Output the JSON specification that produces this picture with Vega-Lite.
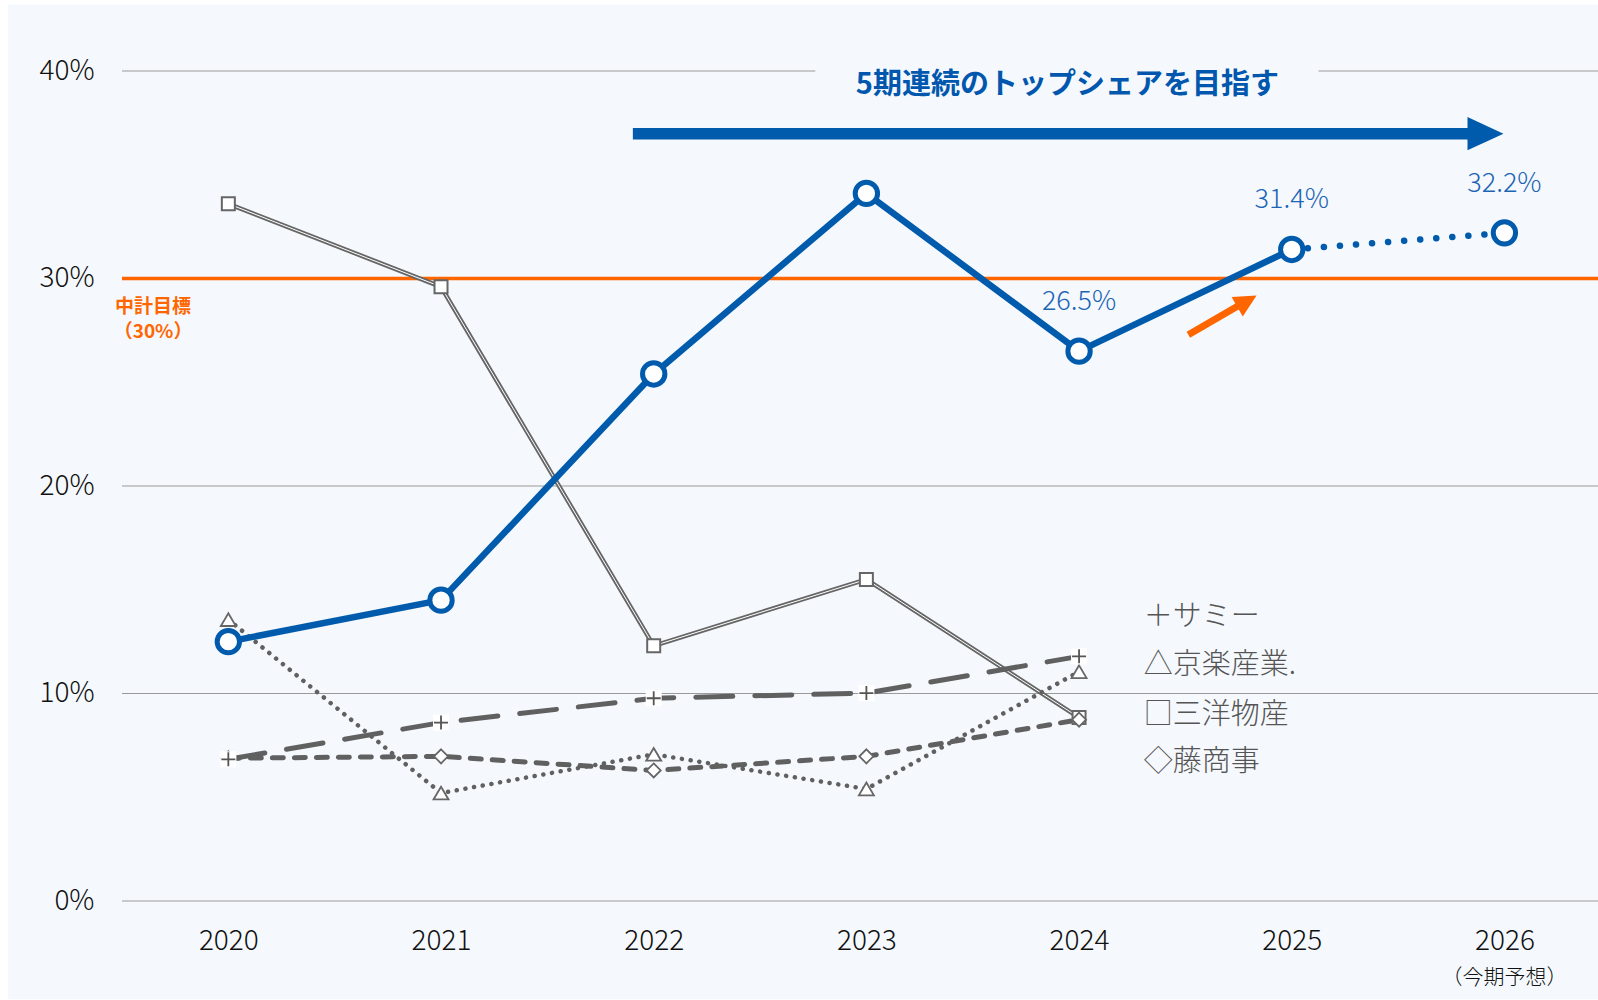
{
  "$schema": "https://vega.github.io/schema/vega-lite/v6.json",
  "width": 1476,
  "height": 830,
  "autosize": "none",
  "padding": {"left": 122, "top": 71, "right": 0, "bottom": 99},
  "background": "white",
  "config": {"view": {"stroke": null}, "font": "Noto Sans CJK JP"},
  "datasets": {
    "frame": [{"year": 2018.964, "year2": 2026.6, "value": -4.73, "value2": 43.2}],
    "grid": [
      {"year": 2019.5, "year2": 2026.44, "value": 0},
      {"year": 2019.5, "year2": 2026.44, "value": 10},
      {"year": 2019.5, "year2": 2026.44, "value": 20},
      {"year": 2019.5, "year2": 2026.44, "value": 40}
    ],
    "titlebox": [{"year": 2022.76, "year2": 2025.126, "value": 39.0, "value2": 40.6}],
    "target": [{"year": 2019.5, "year2": 2026.44, "value": 30}],
    "bluearrow": [{"year": 2021.902, "year2": 2025.83, "value": 36.98, "head": 2025.911}],
    "orangearrow": [{"year": 2024.514, "year2": 2024.749, "value": 27.29, "value2": 28.69, "hx": 2024.789, "hy": 28.91}],
    "share": [
      {"company": "当社", "year": 2020, "value": 12.5},
      {"company": "当社", "year": 2021, "value": 14.5},
      {"company": "当社", "year": 2022, "value": 25.4},
      {"company": "当社", "year": 2023, "value": 34.1},
      {"company": "当社", "year": 2024, "value": 26.5},
      {"company": "当社", "year": 2025, "value": 31.4},
      {"company": "当社", "year": 2026, "value": 32.2},
      {"company": "三洋物産", "year": 2020, "value": 33.6},
      {"company": "三洋物産", "year": 2021, "value": 29.6},
      {"company": "三洋物産", "year": 2022, "value": 12.3},
      {"company": "三洋物産", "year": 2023, "value": 15.5},
      {"company": "三洋物産", "year": 2024, "value": 8.84},
      {"company": "サミー", "year": 2020, "value": 6.83},
      {"company": "サミー", "year": 2021, "value": 8.6},
      {"company": "サミー", "year": 2022, "value": 9.77},
      {"company": "サミー", "year": 2023, "value": 10.02},
      {"company": "サミー", "year": 2024, "value": 11.79},
      {"company": "京楽産業.", "year": 2020, "value": 13.56},
      {"company": "京楽産業.", "year": 2021, "value": 5.2},
      {"company": "京楽産業.", "year": 2022, "value": 7.07},
      {"company": "京楽産業.", "year": 2023, "value": 5.4},
      {"company": "京楽産業.", "year": 2024, "value": 11.05},
      {"company": "藤商事", "year": 2020, "value": 6.88},
      {"company": "藤商事", "year": 2021, "value": 6.97},
      {"company": "藤商事", "year": 2022, "value": 6.29},
      {"company": "藤商事", "year": 2023, "value": 6.97},
      {"company": "藤商事", "year": 2024, "value": 8.74}
    ],
    "notes": [
      {"kind": "title", "year": 2023.945, "value": 39.34, "label": "5期連続のトップシェアを目指す"},
      {"kind": "target", "year": 2019.646, "value": 28.62, "label": "中計目標"},
      {"kind": "target", "year": 2019.646, "value": 27.4, "label": "（30%）"},
      {"kind": "legend", "year": 2024.304, "value": 13.71, "label": "＋サミー"},
      {"kind": "legend", "year": 2024.304, "value": 11.35, "label": "△京楽産業."},
      {"kind": "legend", "year": 2024.304, "value": 8.94, "label": "□三洋物産"},
      {"kind": "legend", "year": 2024.304, "value": 6.68, "label": "◇藤商事"},
      {"kind": "sub", "year": 2026, "value": -3.72, "label": "（今期予想）"}
    ]
  },
  "encoding": {
    "x": {
      "field": "year", "type": "quantitative",
      "scale": {"domain": [2019.5, 2026.44], "nice": false, "zero": false},
      "axis": {"values": [2020, 2021, 2022, 2023, 2024, 2025, 2026], "format": "d", "grid": false, "ticks": false, "domain": false, "title": null, "labelFontSize": 28, "labelFontWeight": 300, "labelColor": "#111111", "labelPadding": 26, "zindex": 1}
    },
    "y": {
      "field": "value", "type": "quantitative",
      "scale": {"domain": [0, 40], "nice": false, "zero": false},
      "axis": {"values": [0, 10, 20, 30, 40], "labelExpr": "datum.value + '%'", "grid": false, "ticks": false, "domain": false, "title": null, "labelFontSize": 28, "labelFontWeight": 300, "labelColor": "#111111", "labelPadding": 28, "zindex": 1}
    }
  },
  "layer": [
    {"data": {"name": "frame"}, "mark": {"type": "rect", "fill": "#f5f9fd"}, "encoding": {"x2": {"field": "year2"}, "y2": {"field": "value2"}}},
    {"data": {"name": "grid"}, "mark": {"type": "rule", "stroke": "#9a9a9a", "strokeWidth": 1.2}, "encoding": {"x2": {"field": "year2"}}},
    {"data": {"name": "titlebox"}, "mark": {"type": "rect", "fill": "#f5f9fd"}, "encoding": {"x2": {"field": "year2"}, "y2": {"field": "value2"}}},
    {"data": {"name": "notes"}, "transform": [{"filter": "datum.kind == 'title'"}], "mark": {"type": "text", "fontSize": 29, "fontWeight": "bold", "color": "#0057ad", "align": "center", "baseline": "middle"}, "encoding": {"text": {"field": "label"}}},
    {"data": {"name": "bluearrow"}, "mark": {"type": "rule", "stroke": "#005bac", "strokeWidth": 11.5, "strokeCap": "butt"}, "encoding": {"x2": {"field": "year2"}}},
    {"data": {"name": "bluearrow"}, "mark": {"type": "point", "shape": "M-1,-0.92L1,0L-1,0.92Z", "size": 1296, "filled": true, "fill": "#005bac", "strokeWidth": 0, "opacity": 1}, "encoding": {"x": {"field": "head", "type": "quantitative"}}},
    {"data": {"name": "target"}, "mark": {"type": "rule", "stroke": "#ff6600", "strokeWidth": 3.5}, "encoding": {"x2": {"field": "year2"}}},
    {"data": {"name": "notes"}, "transform": [{"filter": "datum.kind == 'target'"}], "mark": {"type": "text", "fontSize": 19, "fontWeight": "bold", "color": "#ff6600", "align": "center", "baseline": "middle"}, "encoding": {"text": {"field": "label"}}},
    {"data": {"name": "orangearrow"}, "mark": {"type": "rule", "stroke": "#ff6600", "strokeWidth": 7, "strokeCap": "butt"}, "encoding": {"x2": {"field": "year2"}, "y2": {"field": "value2"}}},
    {"data": {"name": "orangearrow"}, "mark": {"type": "point", "shape": "M-1,-1L1,0L-1,1Z", "size": 500, "angle": -30, "filled": true, "fill": "#ff6600", "strokeWidth": 0, "opacity": 1}, "encoding": {"x": {"field": "hx", "type": "quantitative"}, "y": {"field": "hy", "type": "quantitative"}}},
    {"data": {"name": "share"}, "transform": [{"filter": "datum.company == '三洋物産'"}], "mark": {"type": "line", "stroke": "#666666", "strokeWidth": 4.5}, "encoding": {}},
    {"data": {"name": "share"}, "transform": [{"filter": "datum.company == '三洋物産'"}], "mark": {"type": "line", "stroke": "#ffffff", "strokeWidth": 1}, "encoding": {}},
    {"data": {"name": "share"}, "transform": [{"filter": "datum.company == 'サミー'"}], "mark": {"type": "line", "stroke": "#606060", "strokeWidth": 5, "strokeDash": [37, 22], "strokeCap": "round"}, "encoding": {}},
    {"data": {"name": "share"}, "transform": [{"filter": "datum.company == '京楽産業.'"}], "mark": {"type": "line", "stroke": "#606060", "strokeWidth": 4.5, "strokeDash": [0.1, 8.7], "strokeCap": "round"}, "encoding": {}},
    {"data": {"name": "share"}, "transform": [{"filter": "datum.company == '藤商事'"}], "mark": {"type": "line", "stroke": "#606060", "strokeWidth": 5, "strokeDash": [11, 11], "strokeCap": "round"}, "encoding": {}},
    {"data": {"name": "share"}, "transform": [{"filter": "datum.company == '三洋物産'"}], "mark": {"type": "point", "shape": "square", "size": 169, "filled": true, "fill": "#ffffff", "stroke": "#666666", "strokeWidth": 2, "opacity": 1}},
    {"data": {"name": "share"}, "transform": [{"filter": "datum.company == '藤商事'"}], "mark": {"type": "point", "shape": "M0,-1L1,0L0,1L-1,0Z", "size": 196, "filled": true, "fill": "#ffffff", "stroke": "#666666", "strokeWidth": 1.8, "opacity": 1}},
    {"data": {"name": "share"}, "transform": [{"filter": "datum.company == '京楽産業.'"}], "mark": {"type": "point", "shape": "M0,-0.85L1,0.85L-1,0.85Z", "size": 225, "filled": true, "fill": "#ffffff", "stroke": "#666666", "strokeWidth": 1.8, "opacity": 1}},
    {"data": {"name": "share"}, "transform": [{"filter": "datum.company == 'サミー'"}], "mark": {"type": "point", "shape": "square", "size": 256, "filled": true, "fill": "#ffffff", "strokeWidth": 0, "opacity": 1}},
    {"data": {"name": "share"}, "transform": [{"filter": "datum.company == 'サミー'"}], "mark": {"type": "point", "shape": "M-1,0L1,0M0,-1L0,1", "size": 196, "filled": false, "stroke": "#555555", "strokeWidth": 1.8, "opacity": 1}},
    {"data": {"name": "share"}, "transform": [{"filter": "datum.company == '当社' && datum.year <= 2025"}], "mark": {"type": "line", "stroke": "#005bac", "strokeWidth": 6.5, "strokeJoin": "round"}, "encoding": {}},
    {"data": {"name": "share"}, "transform": [{"filter": "datum.company == '当社' && datum.year >= 2025"}], "mark": {"type": "line", "stroke": "#005bac", "strokeWidth": 6.5, "strokeDash": [0.1, 16], "strokeCap": "round"}, "encoding": {}},
    {"data": {"name": "share"}, "transform": [{"filter": "datum.company == '当社'"}], "mark": {"type": "point", "shape": "circle", "size": 500, "filled": true, "fill": "#ffffff", "stroke": "#005bac", "strokeWidth": 5, "opacity": 1}},
    {"data": {"name": "share"}, "transform": [{"filter": "datum.company == '当社' && datum.year >= 2024"}, {"calculate": "format(datum.value, '.1f') + '%'", "as": "label"}], "mark": {"type": "text", "fontSize": 27, "fontWeight": 300, "color": "#1c64b4", "align": "center", "baseline": "middle", "dy": -49}, "encoding": {"text": {"field": "label"}}},
    {"data": {"name": "notes"}, "transform": [{"filter": "datum.kind == 'legend'"}], "mark": {"type": "text", "fontSize": 29, "fontWeight": 300, "color": "#555555", "align": "left", "baseline": "middle"}, "encoding": {"text": {"field": "label"}}},
    {"data": {"name": "notes"}, "transform": [{"filter": "datum.kind == 'sub'"}], "mark": {"type": "text", "fontSize": 21, "fontWeight": 300, "color": "#111111", "align": "center", "baseline": "middle"}, "encoding": {"text": {"field": "label"}}}
  ]
}
